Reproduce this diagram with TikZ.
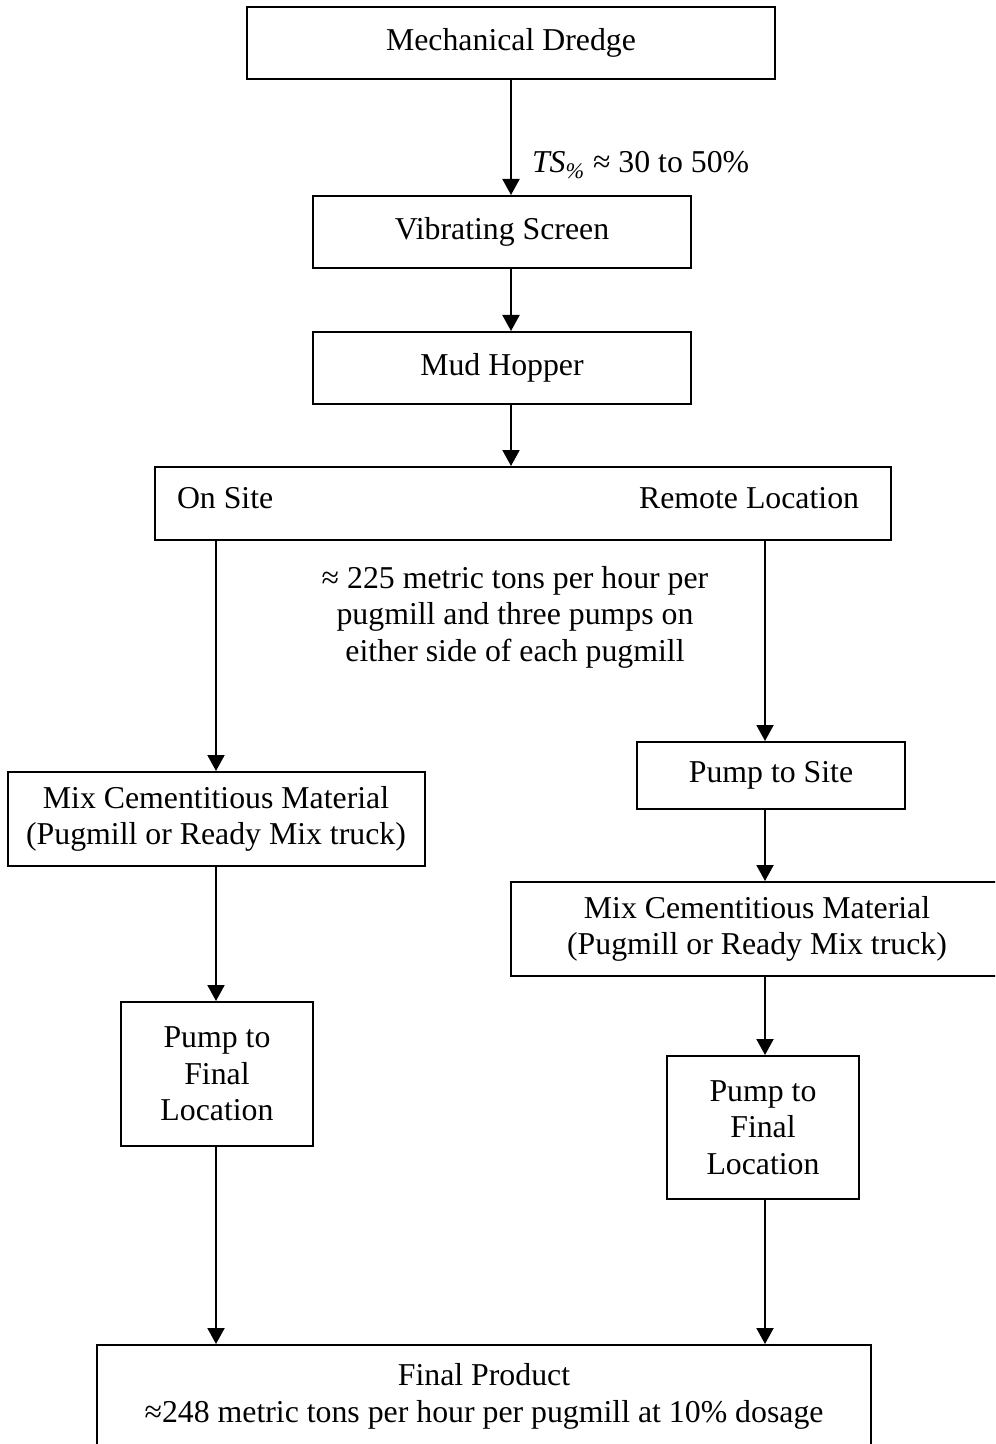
\documentclass[tikz,border=0pt]{standalone}
\usepackage{fontspec}
\setmainfont{Liberation Serif}
\usetikzlibrary{arrows.meta}

\begin{document}
\begin{tikzpicture}[x=0.5pt, y=-0.5pt, line width=1pt,
    >={Triangle[length=8pt,width=8.5pt]},
    txt/.style={font=\fontsize{15.9pt}{18.3pt}\selectfont, align=center, inner sep=0pt},
    box/.style={draw, txt, rectangle}]
  \useasboundingbox (0,0) rectangle (995,1444);
  \clip (0,0) rectangle (995,1444);
  % Dredge and screening
  \node[box, minimum width=264pt, minimum height=36pt]
    (dredge) at (511,43) {Mechanical Dredge};
  \node[box, minimum width=189pt, minimum height=36pt]
    (vscreen) at (502,232) {Vibrating Screen};
  \node[box, minimum width=189pt, minimum height=36pt]
    (hopper) at (502,368) {Mud Hopper};
  % Solids content label
  \node[txt, anchor=west] (ts) at (531,165)
    {\textit{TS\textsubscript{\%}} ≈ 30 to 50\%};
  % Site choice box
  \node[box, minimum width=368pt, minimum height=36.5pt]
    (sites) at (523,503.5) {};
  \node[txt, anchor=west] (onsite) at (176,498) {On Site};
  \node[txt, anchor=east] (remote) at (860,498) {Remote Location};
  % Throughput note
  \node[txt] (rate) at (515,617)
    {≈ 225 metric tons per hour per\\pugmill and three pumps on\\either side of each pugmill};
  % On site branch
  \node[box, minimum width=208.5pt, minimum height=47pt]
    (lmix) at (216,819) {Mix Cementitious Material\\(Pugmill or Ready Mix truck)};
  \node[box, minimum width=96pt, minimum height=72pt]
    (lpump) at (217,1074) {Pump to\\Final\\Location};
  % Remote branch
  \coordinate (rcol) at (765,0);
  \node[box, minimum width=134pt, minimum height=33.5pt]
    (pumpsite) at (771,775.5) {Pump to Site};
  \node[box, minimum width=246pt, minimum height=47pt]
    (rmix) at (757,929) {Mix Cementitious Material\\(Pugmill or Ready Mix truck)};
  \node[box, minimum width=96pt, minimum height=71.5pt]
    (rpump) at (763,1127.5) {Pump to\\Final\\Location};
  % Final product
  \node[box, minimum width=387pt, minimum height=51.5pt]
    (final) at (484,1396.5)
    {Final Product\\≈248 metric tons per hour per pugmill at 10\% dosage};
  % Main line
  \draw[->] (dredge) -- (dredge |- vscreen.north);
  \draw[->] (dredge |- vscreen.south) -- (dredge |- hopper.north);
  \draw[->] (dredge |- hopper.south) -- (dredge |- sites.north);
  % Branches
  \draw[->] (lmix.north |- sites.south) -- (lmix.north);
  \draw[->] (lmix) -- (lmix |- lpump.north);
  \draw[->] (lmix |- lpump.south) -- (lmix |- final.north);
  \draw[->] (rcol |- sites.south) -- (rcol |- pumpsite.north);
  \draw[->] (rcol |- pumpsite.south) -- (rcol |- rmix.north);
  \draw[->] (rcol |- rmix.south) -- (rcol |- rpump.north);
  \draw[->] (rcol |- rpump.south) -- (rcol |- final.north);
\end{tikzpicture}
\end{document}
